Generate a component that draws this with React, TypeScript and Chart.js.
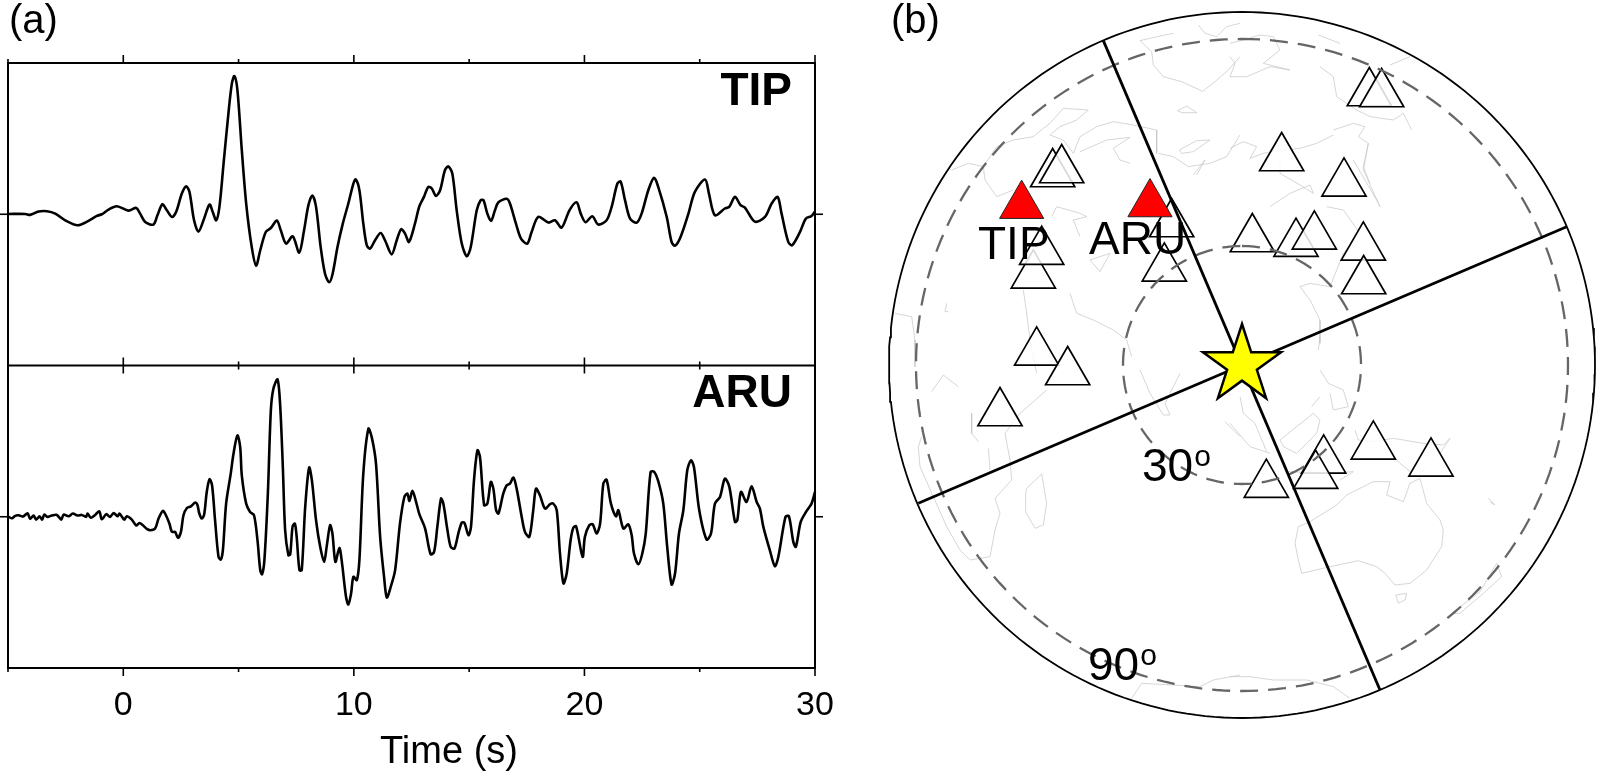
import React, { useEffect, useRef } from "react";
import { Chart, registerables } from "chart.js";

Chart.register(...registerables);

const FONT = '"Liberation Sans", Arial, sans-serif';

// ---------- Panel (a): waveforms ----------
const tipTime = [-4.99,-4.25,-4.04,-3.67,-3.31,-2.95,-2.52,-1.98,-1.51,-1.15,-0.93,-0.64,-0.28,0.23,0.56,0.73,0.95,1.31,1.48,1.7,1.89,2.11,2.29,2.54,2.73,2.87,3.07,3.26,3.48,3.74,3.88,4.03,4.17,4.35,4.56,4.71,4.82,4.95,5.14,5.33,5.57,5.76,5.94,6.18,6.4,6.66,6.83,7.06,7.35,7.63,7.84,8.03,8.2,8.36,8.56,8.75,8.93,9.08,9.29,9.52,9.76,9.98,10.08,10.24,10.41,10.56,10.7,10.92,11.16,11.35,11.64,11.86,12.05,12.22,12.39,12.65,12.84,13.04,13.23,13.38,13.56,13.74,13.95,14.1,14.27,14.46,14.68,14.9,15.07,15.33,15.5,15.62,15.79,15.95,16.12,16.27,16.63,16.77,17.03,17.25,17.52,17.71,18,18.44,18.72,19.01,19.35,19.66,19.84,20.05,20.34,20.6,20.96,21.18,21.43,21.57,21.76,21.98,22.27,22.48,22.77,23.02,23.2,23.57,23.78,23.93,24.17,24.51,24.79,25.23,25.4,25.66,26.09,26.28,26.53,26.77,26.96,27.39,27.83,28.12,28.38,28.55,28.84,29.01,29.35,29.6,29.85,30];
const tipAmp = [0.002,0.002,-0.004,0.018,0.02,0.004,-0.04,-0.073,-0.044,-0.011,0,0.031,0.053,0.024,0.042,0.004,-0.051,-0.068,-0.007,0.066,0.026,-0.018,0.015,0.137,0.185,0.148,-0.04,-0.115,-0.04,0.064,0.015,-0.04,0.049,0.336,0.667,0.865,0.914,0.821,0.424,0.071,-0.216,-0.34,-0.238,-0.117,-0.091,-0.042,-0.106,-0.194,-0.146,-0.254,-0.106,0.06,0.124,0.049,-0.216,-0.393,-0.45,-0.393,-0.216,-0.062,0.071,0.203,0.23,0.159,-0.062,-0.205,-0.227,-0.172,-0.124,-0.172,-0.265,-0.172,-0.099,-0.128,-0.183,-0.062,0.053,0.115,0.181,0.17,0.121,0.159,0.291,0.316,0.269,0.026,-0.194,-0.278,-0.216,0.026,0.093,0.093,0.004,-0.044,0.026,0.079,0.102,0.071,-0.062,-0.161,-0.194,-0.117,-0.018,-0.055,-0.04,-0.088,0.026,0.079,0.004,-0.053,-0.013,-0.068,-0.04,0.049,0.203,0.216,0.093,-0.029,-0.055,0.004,0.159,0.241,0.181,-0.018,-0.183,-0.208,-0.15,0.004,0.148,0.23,0.137,-0.007,0.038,0.049,0.115,0.06,0.044,-0.049,-0.018,0.071,0.115,0.004,-0.183,-0.205,-0.117,-0.029,-0.011,0.018];

const aruTime = [-4.99,-4.83,-4.69,-4.54,-4.35,-4.15,-4.04,-3.89,-3.78,-3.63,-3.52,-3.43,-3.29,-3.1,-2.88,-2.69,-2.59,-2.37,-2.19,-1.98,-1.8,-1.61,-1.55,-1.41,-1.22,-1.04,-0.93,-0.74,-0.57,-0.42,-0.25,-0.16,0.04,0.15,0.37,0.56,0.7,0.85,1.02,1.17,1.38,1.53,1.72,1.85,2,2.11,2.25,2.37,2.5,2.61,2.76,2.93,3.12,3.22,3.29,3.41,3.51,3.62,3.74,3.85,3.98,4.13,4.23,4.32,4.46,4.66,4.78,4.95,5.07,5.14,5.33,5.5,5.67,5.82,5.94,6.02,6.12,6.27,6.4,6.51,6.69,6.8,6.92,7.02,7.16,7.24,7.34,7.44,7.52,7.64,7.74,7.89,8.06,8.18,8.36,8.54,8.71,8.82,8.97,9.07,9.2,9.37,9.47,9.66,9.76,9.88,9.98,10.13,10.24,10.41,10.63,10.78,10.96,11.14,11.31,11.43,11.6,11.79,12,12.19,12.32,12.41,12.54,12.68,12.84,13.09,13.33,13.48,13.62,13.78,13.88,14.06,14.2,14.36,14.53,14.68,14.79,14.97,15.08,15.21,15.36,15.47,15.65,15.79,15.94,16.05,16.17,16.27,16.48,16.63,16.77,16.92,17.06,17.28,17.42,17.61,17.78,17.9,18.07,18.29,18.51,18.65,18.8,18.94,19.09,19.23,19.4,19.52,19.64,19.92,20.02,20.21,20.36,20.53,20.68,20.82,20.96,21.15,21.37,21.47,21.69,21.9,22.05,22.15,22.34,22.51,22.66,22.87,23.03,23.21,23.42,23.59,23.78,23.93,24.1,24.29,24.46,24.62,24.75,24.98,25.3,25.49,25.66,25.88,26.09,26.28,26.53,26.63,26.79,27.03,27.25,27.47,27.61,27.76,28.04,28.26,28.41,28.72,28.87,29.06,29.17,29.38,29.61,29.85,30];
const aruAmp = [0.001,-0.01,0.006,0.01,0.001,0.023,-0.014,0.008,-0.019,0.003,-0.019,0.014,-0.001,0.008,0.012,-0.019,0.014,0.003,0.021,0.008,0.012,-0.001,0.021,-0.006,0.012,0.036,-0.017,0.017,-0.001,0.025,0.003,0.021,-0.019,0.003,-0.019,-0.058,-0.041,-0.056,-0.08,-0.089,-0.078,-0.012,0.039,0.01,-0.045,-0.1,-0.1,-0.14,-0.1,0.01,0.058,0.069,0.094,0.076,0.025,-0.012,0.017,0.164,0.248,0.208,-0.023,-0.265,-0.283,-0.221,0.087,0.285,0.417,0.538,0.461,0.274,0.087,0.032,0.01,-0.155,-0.353,-0.38,-0.287,0.153,0.703,0.846,0.908,0.747,0.329,-0.089,-0.254,-0.248,-0.067,-0.045,-0.133,-0.353,-0.353,0.065,0.325,0.241,-0.023,-0.199,-0.298,-0.199,-0.056,-0.111,-0.298,-0.206,-0.287,-0.529,-0.58,-0.507,-0.397,-0.419,-0.287,0.285,0.582,0.523,0.351,-0.133,-0.397,-0.534,-0.463,-0.353,-0.045,0.131,0.153,0.105,0.171,0.109,0.017,-0.078,-0.248,-0.232,-0.067,0.12,0.087,-0.089,-0.199,-0.21,-0.111,-0.039,-0.039,-0.122,-0.067,0.241,0.439,0.395,0.076,0.087,0.23,0.186,0.043,0.021,0.153,0.208,0.219,0.259,0.186,-0.001,-0.1,-0.133,0.043,0.186,0.142,0.054,0.083,0.087,0.043,-0.243,-0.441,-0.375,-0.155,-0.072,-0.063,-0.265,-0.133,-0.056,-0.05,-0.111,-0.045,0.219,0.245,0.087,0.003,0.043,-0.078,-0.05,-0.122,-0.243,-0.314,-0.243,-0.111,0.296,0.296,0.23,0.087,-0.199,-0.448,-0.375,-0.111,0.043,0.307,0.373,0.329,0.043,-0.151,-0.111,0.087,0.131,0.252,0.201,-0.034,-0.023,0.164,0.098,0.201,0.098,0.054,-0.067,-0.221,-0.327,-0.265,-0.001,0.003,-0.166,-0.199,-0.034,0.032,0.087,0.164];

const timeRange = [-5, 30];
const timeStep = 5;
const stationTraceNames = ["TIP", "ARU"];
const timeAxisTitle = "Time (s)";

// ---------- Panel (b): map, in map units from the source at the centre ----------
const mapLimit = 1059;
const ringDistances = [357, 978];
const ringLabels = ["30", "90"];

const stationX = [-568,-541,-211,-233,-626,-601,-616,-523,-726,382,419,119,306,31,162,217,364,365,245,221,73,394,567];
const stationY = [573,585,423,290,269,340,38,-21,-144,816,813,621,545,378,364,386,353,252,-286,-332,-359,-244,-295];
const targetX = [-661,-276];
const targetY = [478,483];
const targetNames = ["TIP", "ARU"];

const nodalLineAX = [-416, 414];
const nodalLineAY = [973, -975];
const nodalLineBX = [-971, 974];
const nodalLineBY = [-415, 415];

const coastlines: number[][][] = [
  [[-206,-246,-306,-271,-266,-236,-181,-118,-81,-41,-6],[995,987,973,940,900,865,850,821,850,885,925]],
  [[-131,-111,-76,-46,-6],[1020,995,985,1015,1025]],
  [[-36,4,54,94,114,64,144,84,14,-36,-21,-36],[965,975,990,985,945,905,885,895,865,865,905,925]],
  [[229,294],[990,965]],
  [[234,274,284,344,384,454,484,509],[895,865,805,765,745,735,755,705]],
  [[444,504],[900,925]],
  [[-193,-166,-136,-181,-193],[763,777,757,757,763]],
  [[-188,-136,-96,-146,-181,-188],[645,673,675,640,635,645]],
  [[-251,-206,-161,-96,-46,-6],[635,625,595,605,625,690]],
  [[-146,-111,-136],[570,615,570]],
  [[-871,-821,-776,-736,-686,-626,-596,-576,-536,-461,-496,-546,-576,-536,-506],[585,605,595,655,675,685,710,725,770,765,735,715,690,675,635]],
  [[-506,-486,-436,-386,-326,-256,-256],[635,685,715,730,720,705,635]],
  [[-486,-406,-336,-386,-366,-336],[640,675,683,650,615,605]],
  [[-571,-556,-486,-466,-506,-486],[445,475,455,445,435,385]],
  [[-776,-771,-736,-686],[595,555,505,525]],
  [[-456,-396,-426,-456],[315,335,280,315]],
  [[-656,-646,-636,-616],[225,155,75,-25]],
  [[-516,-496,-446,-386,-346,-331],[215,155,135,105,75,25]],
  [[-1041,-991,-981,-981],[155,145,75,-5]],
  [[-886,-891,-881],[185,160,160]],
  [[-586,-666,-711,-696,-691,-741,-726,-741,-756,-816,-846,-886,-926,-966,-971,-961],[-75,-145,-205,-285,-345,-400,-445,-495,-575,-585,-555,-485,-395,-305,-245,-215]],
  [[-649,-646,-601,-586,-596,-621,-649,-649],[-385,-370,-327,-415,-480,-490,-440,-385]],
  [[-811,-811,-791],[-145,-205,-230]],
  [[-761,-756],[-250,-315]],
  [[-931,-896,-851],[-80,-30,-65]],
  [[-306,-276,-236,-216,-231,-186],[-15,-85,-150,-150,-115,-25]],
  [[-51,-6],[-170,-215]],
  [[-36,24,84],[-175,-245,-265]],
  [[-6,4,39,74],[-95,-145,-175,-260]],
  [[114,164,214,234,224,164,124,114],[-225,-185,-145,-165,-205,-265,-245,-225]],
  [[234,259,304,319,274,264],[-15,-55,-75,-125,-135,-85]],
  [[209,234],[-125,-95]],
  [[134,264,334,294],[-320,-325,-320,-345]],
  [[339,349,394,454,544,604,624,594,524,474,444],[-195,-225,-230,-220,-235,-240,-220,-265,-335,-295,-265]],
  [[169,204,284,314,364,394,444,434,484,504,534,554,594,604,599,554,504,459,429,404,349,264,179,169,159,169],[-485,-470,-420,-390,-365,-350,-350,-390,-410,-355,-340,-415,-465,-495,-545,-615,-655,-660,-625,-605,-587,-605,-625,-585,-535,-485]],
  [[461,494,489,469,461],[-690,-685,-705,-715,-690]],
  [[629,714,764,779,724,654,629],[-745,-680,-595,-635,-685,-745,-745]],
  [[739,759,744],[-400,-420,-410]],
  [[-36,24,94,194,274,324],[-935,-935,-945,-945,-965,-1000]],
  [[-331,-301,-206,-126,-86,-6],[-1000,-955,-960,-965,-945,-930]],
  [[254,304,354,304,264,204,174,204,234,234],[475,465,395,335,235,245,235,195,135,65]],
  [[334,404,414,364,379],[615,495,475,585,665]],
  [[274,334,369,349,379,364,384],[705,725,715,685,665,595,545]],
  [[84,144,204,214,174,114,114],[475,515,540,515,540,575,615]],
  [[-36,4,44,24,64,174,224,274],[650,670,655,620,635,650,665,690]],
  [[234,229],[85,45]],
];

const pairs = (xs: number[], ys: number[]) => xs.map((x, i) => ({ x, y: ys[i] }));

// closed circle outline around the map centre for a given distance
const circle = (r: number) => {
  const pts: { x: number; y: number }[] = [];
  for (let d = 0; d <= 360; d += 1.5) {
    const a = (d * Math.PI) / 180;
    pts.push({ x: r * Math.sin(a), y: r * Math.cos(a) });
  }
  return pts;
};

function makeStar(): HTMLCanvasElement {
  const c = document.createElement("canvas");
  c.width = 110;
  c.height = 110;
  const g = c.getContext("2d")!;
  const R = 41;
  const r = R * 0.382;
  g.beginPath();
  for (let i = 0; i < 10; i++) {
    const a = (i * Math.PI) / 5;
    const rad = i % 2 ? r : R;
    const px = 55 + rad * Math.sin(a);
    const py = 55 - rad * Math.cos(a);
    if (i === 0) g.moveTo(px, py);
    else g.lineTo(px, py);
  }
  g.closePath();
  g.fillStyle = "#ffff00";
  g.fill();
  g.lineWidth = 2.5;
  g.strokeStyle = "#000";
  g.lineJoin = "miter";
  g.miterLimit = 10;
  g.stroke();
  return c;
}

const AXIS_W = 2;

const framePlugin = {
  id: "frame",
  afterDatasetsDraw(chart: any) {
    const { ctx, chartArea: a, scales } = chart;
    const x = scales.x;
    const yT = scales.yTip;
    const yA = scales.yAru;
    const mid = yT.getPixelForValue(-1);
    ctx.save();
    ctx.strokeStyle = "#000";
    ctx.lineWidth = AXIS_W;
    ctx.lineCap = "square";
    const seg = (x1: number, y1: number, x2: number, y2: number) => {
      ctx.beginPath();
      ctx.moveTo(x1, y1);
      ctx.lineTo(x2, y2);
      ctx.stroke();
    };
    seg(a.left, a.top, a.right, a.top);
    seg(a.left, mid, a.right, mid);
    seg(a.left, a.bottom, a.right, a.bottom);
    seg(a.left, a.top, a.left, a.bottom);
    seg(a.right, a.top, a.right, a.bottom);
    ctx.lineWidth = 1.6;
    ctx.lineCap = "butt";
    for (const t of x.ticks) {
      const px = x.getPixelForValue(t.value);
      const len = t.value % 10 === 0 ? 8 : 4;
      seg(px, a.top - len, px, a.top);
      seg(px, mid - len, px, mid + len);
      seg(px, a.bottom, px, a.bottom + len);
    }
    for (const py of [yT.getPixelForValue(0), yA.getPixelForValue(0)]) {
      seg(a.left - 8, py, a.left, py);
      seg(a.right, py, a.right + 8, py);
    }
    ctx.fillStyle = "#000";
    ctx.textBaseline = "alphabetic";
    ctx.textAlign = "left";
    ctx.font = `40px ${FONT}`;
    ctx.fillText("(a)", 9, 33);
    ctx.textAlign = "right";
    ctx.font = `bold 46px ${FONT}`;
    ctx.fillText(stationTraceNames[0], 792, 105);
    ctx.fillText(stationTraceNames[1], 792, 407);
    ctx.textAlign = "center";
    ctx.font = `38px ${FONT}`;
    ctx.fillText(timeAxisTitle, 449, 763);
    ctx.restore();
  },
};

const mapTextPlugin = {
  id: "mapText",
  afterDatasetsDraw(chart: any) {
    const { ctx } = chart;
    ctx.save();
    ctx.fillStyle = "#000";
    ctx.textBaseline = "alphabetic";
    ctx.textAlign = "left";
    ctx.font = `40px ${FONT}`;
    ctx.fillText("(b)", 51, 33);
    ctx.font = `46px ${FONT}`;
    ctx.fillText(targetNames[0], 138, 259);
    ctx.fillText(targetNames[1], 249, 254);
    const degree = (label: string, x: number, y: number) => {
      ctx.font = `46px ${FONT}`;
      ctx.fillText(label, x, y);
      const w = ctx.measureText(label).width;
      ctx.font = `30px ${FONT}`;
      ctx.fillText("o", x + w + 1, y - 15);
    };
    degree(ringLabels[0], 302, 481);
    degree(ringLabels[1], 248, 680);
    ctx.restore();
  },
};

export default function App() {
  const waveRef = useRef<HTMLCanvasElement>(null);
  const mapRef = useRef<HTMLCanvasElement>(null);

  useEffect(() => {
    const traceStyle = {
      type: "line" as const,
      borderColor: "#000",
      borderWidth: 2.6,
      pointRadius: 0,
      fill: false,
      tension: 0.3,
      borderJoinStyle: "round" as const,
      clip: false as any,
    };
    const wave = new Chart(waveRef.current!, {
      type: "line",
      data: {
        datasets: [
          { ...traceStyle, label: "TIP", data: pairs(tipTime, tipAmp), yAxisID: "yTip", xAxisID: "x" },
          { ...traceStyle, label: "ARU", data: pairs(aruTime, aruAmp), yAxisID: "yAru", xAxisID: "x" },
        ],
      },
      options: {
        animation: false,
        responsive: false,
        layout: { autoPadding: false, padding: { left: 8, top: 63, right: 25, bottom: 0 } },
        plugins: { legend: { display: false }, tooltip: { enabled: false } },
        scales: {
          x: {
            type: "linear",
            min: timeRange[0],
            max: timeRange[1],
            grid: { display: false, drawTicks: false },
            border: { display: false },
            afterFit: (s: any) => {
              s.height = 104;
              s.paddingLeft = 0;
              s.paddingRight = 0;
            },
            ticks: {
              stepSize: timeStep,
              autoSkip: false,
              maxRotation: 0,
              color: "#000",
              padding: 17,
              font: { family: FONT, size: 34 },
              callback: (v: any) => (Number(v) % 10 === 0 ? String(v) : ""),
            },
          },
          yTip: { type: "linear", min: -3, max: 1, display: false },
          yAru: { type: "linear", min: -1, max: 3, display: false },
        },
      } as any,
      plugins: [framePlugin as any],
    });

    const lineBase = { type: "line" as const, pointRadius: 0, fill: false, clip: false as any, tension: 0 };
    const ringData = ringDistances.map((r) => ({
      ...lineBase,
      data: circle(r),
      borderColor: "#666",
      borderWidth: 2.3,
      borderDash: [18, 10],
      order: 3,
    }));
    const coastData = coastlines.map(([xs, ys]) => ({
      ...lineBase,
      data: pairs(xs, ys),
      borderColor: "#c4c4c4",
      borderWidth: 0.7,
      order: 8,
    }));
    const map = new Chart(mapRef.current!, {
      type: "scatter",
      data: {
        datasets: [
          {
            data: [{ x: 0, y: 0 }],
            pointStyle: makeStar() as any,
            pointRadius: 10,
            showLine: false,
            order: 0,
            clip: false as any,
          },
          { ...lineBase, data: pairs(nodalLineAX, nodalLineAY), borderColor: "#000", borderWidth: 2.8, order: 1 },
          { ...lineBase, data: pairs(nodalLineBX, nodalLineBY), borderColor: "#000", borderWidth: 2.8, order: 1 },
          { ...lineBase, data: circle(mapLimit), borderColor: "#000", borderWidth: 1.8, order: 2 },
          ...ringData,
          {
            data: pairs(targetX, targetY),
            pointStyle: "triangle",
            pointRadius: 25.5,
            pointBackgroundColor: "#ff0000",
            pointBorderColor: "#222",
            pointBorderWidth: 1,
            showLine: false,
            order: 4,
            clip: false as any,
          },
          {
            data: pairs(stationX, stationY),
            pointStyle: "triangle",
            pointRadius: 25.5,
            pointBackgroundColor: "rgba(255,255,255,0.85)",
            pointBorderColor: "#000",
            pointBorderWidth: 1.7,
            showLine: false,
            order: 5,
            clip: false as any,
          },
          ...coastData,
        ],
      },
      options: {
        animation: false,
        responsive: false,
        layout: { autoPadding: false, padding: { left: 49, right: 5, top: 12, bottom: 54 } },
        plugins: { legend: { display: false }, tooltip: { enabled: false } },
        scales: {
          x: { type: "linear", min: -mapLimit, max: mapLimit, display: false },
          y: { type: "linear", min: -mapLimit, max: mapLimit, display: false },
        },
      } as any,
      plugins: [mapTextPlugin as any],
    });

    return () => {
      wave.destroy();
      map.destroy();
    };
  }, []);

  return (
    <div style={{ position: "absolute", left: 0, top: 0, width: 1600, height: 772, background: "#fff", overflow: "hidden" }}>
      <canvas ref={waveRef} width={840} height={772} style={{ position: "absolute", left: 0, top: 0, display: "block" }} />
      <canvas ref={mapRef} width={760} height={772} style={{ position: "absolute", left: 840, top: 0, display: "block" }} />
    </div>
  );
}
